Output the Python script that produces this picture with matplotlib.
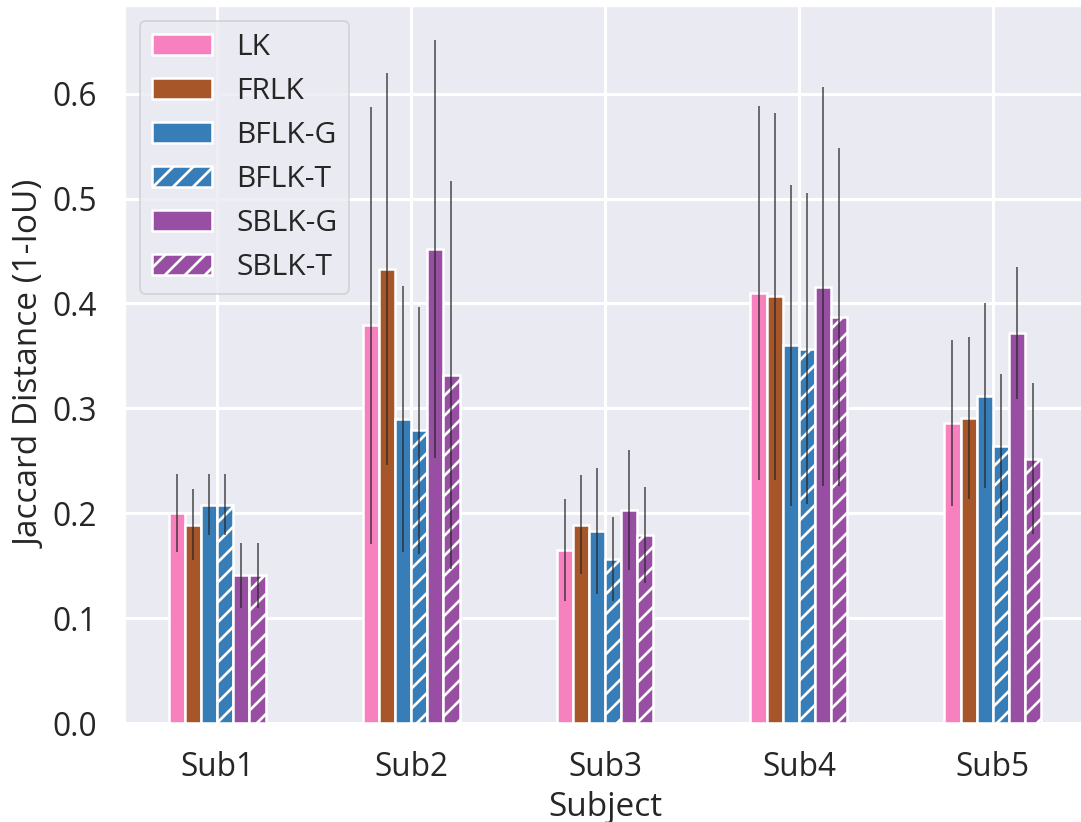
import numpy as np
import matplotlib
matplotlib.use("Agg")
import matplotlib.pyplot as plt
import seaborn as sns

subjects = ["Sub1", "Sub2", "Sub3", "Sub4", "Sub5"]
methods = ["LK", "FRLK", "BFLK-G", "BFLK-T", "SBLK-G", "SBLK-T"]

lk = [0.200, 0.379, 0.165, 0.410, 0.286]
frlk = [0.189, 0.433, 0.189, 0.407, 0.291]
bflk_g = [0.208, 0.290, 0.183, 0.360, 0.312]
bflk_t = [0.208, 0.279, 0.156, 0.357, 0.264]
sblk_g = [0.141, 0.452, 0.203, 0.416, 0.372]
sblk_t = [0.141, 0.332, 0.179, 0.387, 0.252]

lk_err = [0.037, 0.208, 0.049, 0.178, 0.079]
frlk_err = [0.034, 0.187, 0.047, 0.175, 0.077]
bflk_g_err = [0.029, 0.127, 0.060, 0.153, 0.088]
bflk_t_err = [0.029, 0.118, 0.040, 0.148, 0.069]
sblk_g_err = [0.031, 0.199, 0.057, 0.190, 0.063]
sblk_t_err = [0.031, 0.185, 0.046, 0.161, 0.072]

values = [lk, frlk, bflk_g, bflk_t, sblk_g, sblk_t]
errors = [lk_err, frlk_err, bflk_g_err, bflk_t_err, sblk_g_err, sblk_t_err]
colors = ["#f781bf", "#a65628", "#377eb8", "#377eb8", "#984ea3", "#984ea3"]
hatches = [None, None, None, "//", None, "//"]

sns.set_style("darkgrid")
plt.rcParams["font.family"] = ["Open Sans", "DejaVu Sans"]
plt.rcParams["hatch.color"] = "white"
plt.rcParams["hatch.linewidth"] = 1.6
plt.rcParams["grid.linewidth"] = 1.8

dpi = 120
fig = plt.figure(figsize=(1081 / dpi, 822 / dpi), dpi=dpi)
ax = fig.add_axes([125 / 1081, 99 / 822, 960 / 1081, 717 / 822])

x = np.arange(len(subjects))
w = 0.5 / len(methods)
for i, m in enumerate(methods):
    pos = x - 0.25 + w / 2 + i * w
    ax.bar(pos, values[i], w, yerr=errors[i], color=colors[i],
           edgecolor="white", linewidth=1.5, hatch=hatches[i], label=m,
           error_kw=dict(ecolor="0.15", elinewidth=0.9, alpha=0.85))

ax.set_xticks(x)
ax.set_xticklabels(subjects)
ax.tick_params(labelsize=19, colors="0.15", length=0, pad=17)
ax.set_xlabel("Subject", fontsize=20, color="0.15", labelpad=4)
ax.set_ylabel("Jaccard Distance (1-IoU)", fontsize=20, color="0.15", labelpad=2.5)
ax.legend(loc="upper left", fontsize=18, labelspacing=0.5)

fig.savefig("out.png", dpi=dpi)
